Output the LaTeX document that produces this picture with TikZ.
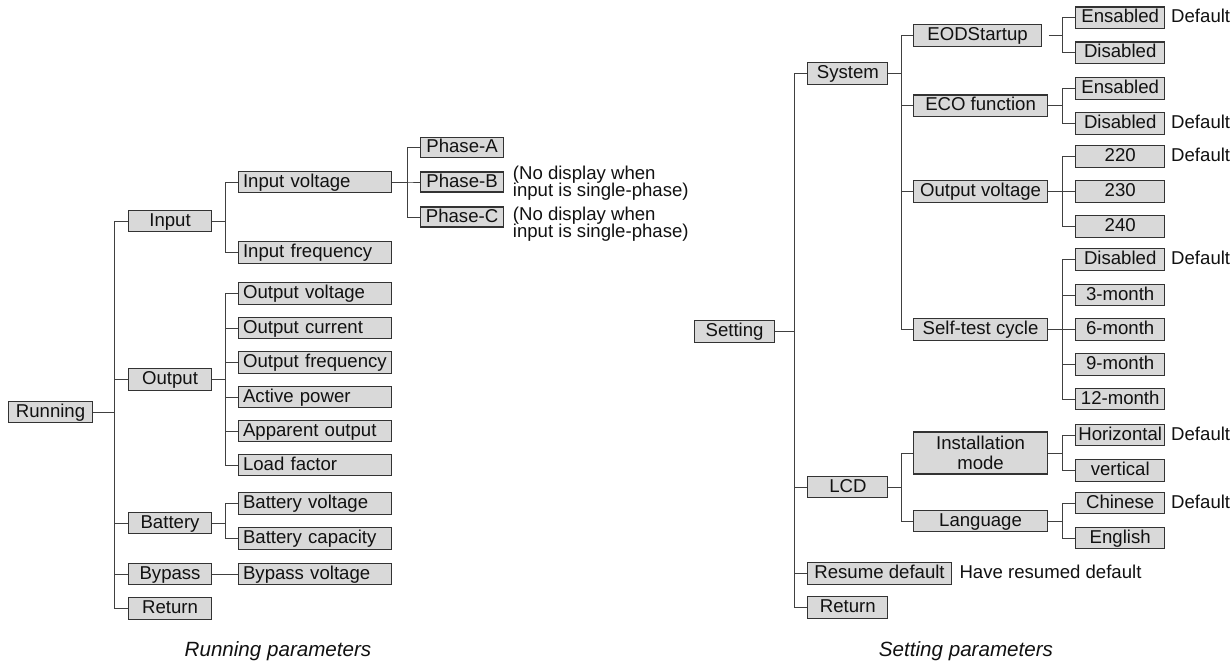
\documentclass[tikz,border=0pt]{standalone}
\usepackage{fontspec}
\setmainfont{Liberation Sans}
\definecolor{boxfill}{HTML}{D9D9D9}
\definecolor{boxline}{HTML}{333333}
\definecolor{linecol}{HTML}{404040}
\definecolor{txtcol}{HTML}{111111}
\newcommand\fsz{\fontsize{18.6}{16.7}\selectfont}
\newcommand\capfsz{\fontsize{20.6}{24}\selectfont\itshape}
\begin{document}
\begin{tikzpicture}[x=1pt,y=-1pt,
  box/.style={draw=boxline, fill=boxfill, line width=1.1pt, inner sep=0pt,
    minimum height=21.7pt, text height=14pt, text depth=4pt, font=\fsz,
    text=txtcol, anchor=west, minimum width=#1},
  lbox/.style={draw=boxline, fill=boxfill, line width=1.1pt, inner ysep=0pt, inner xsep=4.5pt,
    minimum height=21.7pt, text height=14pt, text depth=4pt, font=\fsz,
    text=txtcol, anchor=west, text width=#1, align=left},
  pbox/.style={box=83, minimum height=20pt},
  txt/.style={inner sep=0pt, font=\fsz, text=txtcol, anchor=base west},
  conn/.style={draw=linecol, line width=1pt},
  captxt/.style={inner sep=0pt, font=\capfsz, text=txtcol, anchor=base}]
\useasboundingbox (0,0) rectangle (1230,664);

% ---------------- Running parameters ----------------
\node[box=84] (running) at (8,412) {Running};
\node[box=83] (input) at (128,221) {Input};
\node[box=83] (output) at (128,379.5) {Output};
\node[box=83] (battery) at (128,523) {Battery};
\node[box=83] (bypass) at (128,574) {Bypass};
\node[box=83] (lreturn) at (128,608.5) {Return};

\node[lbox=144] (inv) at (238,182) {Input voltage};
\node[lbox=144] (infr) at (238,252.5) {Input frequency};
\node[lbox=144] (ov) at (238,293.5) {Output voltage};
\node[lbox=144] (oc) at (238,328) {Output current};
\node[lbox=144] (of) at (238,362.5) {Output frequency};
\node[lbox=144] (ap) at (238,397) {Active power};
\node[lbox=144] (ao) at (238,431) {Apparent output};
\node[lbox=144] (lf) at (238,465) {Load factor};
\node[lbox=144] (bv) at (238,503.5) {Battery voltage};
\node[lbox=144] (bc) at (238,538.5) {Battery capacity};
\node[lbox=144] (byv) at (238,574) {Bypass voltage};

\node[pbox] (pa) at (420,147.7) {Phase-A};
\node[pbox] (pb) at (420,182) {Phase-B};
\node[pbox] (pc) at (420,217) {Phase-C};
\node[txt, align=left] (nb) at (512.7,196.7) {(No display when\\[-1.6pt]input is single-phase)};
\node[txt, align=left] (nc) at (512.7,237.3) {(No display when\\[-1.6pt]input is single-phase)};

\foreach \c in {input,output,battery,bypass,lreturn}
  \draw[conn] (running.east) -- ++(21,0) |- (\c.west);
\foreach \c in {inv,infr}
  \draw[conn] (input.east) -- ++(13,0) |- (\c.west);
\foreach \c in {ov,oc,of,ap,ao,lf}
  \draw[conn] (output.east) -- ++(13,0) |- (\c.west);
\foreach \c in {bv,bc}
  \draw[conn] (battery.east) -- ++(13,0) |- (\c.west);
\draw[conn] (bypass.east) -- (byv.west);
\foreach \c in {pa,pb,pc}
  \draw[conn] (inv.east) -- ++(15,0) |- (\c.west);

\node[captxt] (cap1) at (278,656.7) {Running parameters};

% ---------------- Setting parameters ----------------
\node[box=80] (setting) at (694,331.5) {Setting};
\node[box=80] (system) at (807.3,73.7) {System};
\node[box=80] (lcd) at (807.3,487) {LCD};
\node[box=143.4] (resume) at (807.3,573.3) {Resume default};
\node[box=80] (rreturn) at (807.3,607.7) {Return};

\node[box=127.4] (eod) at (913.3,35.3) {EODStartup};
\node[box=133.4] (eco) at (913.3,105.8) {ECO function};
\node[box=133.4] (outv) at (913.3,191.3) {Output voltage};
\node[box=133.4] (self) at (913.3,329.5) {Self-test cycle};
\node[draw=boxline, fill=boxfill, line width=1.1pt, inner sep=0pt, anchor=west,
  minimum width=133.4pt, minimum height=42pt, align=center,
  font=\fontsize{18.6}{20}\selectfont, text=txtcol] (inst) at (913.3,453) {Installation\\mode};
\node[box=133.4] (lang) at (913.3,521) {Language};

\node[box=89.3] (e1) at (1075,17.8) {Ensabled};
\node[box=89.3] (d1) at (1075,52.8) {Disabled};
\node[box=89.3] (e2) at (1075,88.3) {Ensabled};
\node[box=89.3] (d2) at (1075,123.7) {Disabled};
\node[box=89.3] (v220) at (1075,156.5) {220};
\node[box=89.3] (v230) at (1075,191.3) {230};
\node[box=89.3] (v240) at (1075,226.5) {240};
\node[box=89.3] (sd) at (1075,259.7) {Disabled};
\node[box=89.3] (m3) at (1075,295) {3-month};
\node[box=89.3] (m6) at (1075,329.5) {6-month};
\node[box=89.3] (m9) at (1075,364.3) {9-month};
\node[box=89.3] (m12) at (1075,399) {12-month};
\node[box=89.3] (hor) at (1075,435) {Horizontal};
\node[box=89.3] (ver) at (1075,470.5) {vertical};
\node[box=89.3] (chi) at (1075,503) {Chinese};
\node[box=89.3] (eng) at (1075,538) {English};

\node[txt] (df1) at (1171,22.8) {Default};
\node[txt] (df2) at (1171,128.7) {Default};
\node[txt] (df3) at (1171,161.5) {Default};
\node[txt] (df4) at (1171,264.7) {Default};
\node[txt] (df5) at (1171,440) {Default};
\node[txt] (df6) at (1171,508) {Default};
\node[txt] (hrd) at (959.3,578.8) {Have resumed default};

\foreach \c in {system,lcd,resume,rreturn}
  \draw[conn] (setting.east) -- ++(19.3,0) |- (\c.west);
\foreach \c in {eod,eco,outv,self}
  \draw[conn] (system.east) -- ++(12.7,0) |- (\c.west);
\foreach \c in {inst,lang}
  \draw[conn] (lcd.east) -- ++(12.7,0) |- (\c.west);
\foreach \c in {e1,d1}
  \draw[conn] ([xshift=7pt]eod.east) -- ++(14,0) |- (\c.west);
\foreach \c in {e2,d2}
  \draw[conn] (eco.east) -- ++(15,0) |- (\c.west);
\foreach \c in {v220,v230,v240}
  \draw[conn] (outv.east) -- ++(15,0) |- (\c.west);
\foreach \c in {sd,m3,m6,m9,m12}
  \draw[conn] (self.east) -- ++(15,0) |- (\c.west);
\foreach \c in {hor,ver}
  \draw[conn] (inst.east) -- ++(15,0) |- (\c.west);
\foreach \c in {chi,eng}
  \draw[conn] (lang.east) -- ++(15,0) |- (\c.west);

\node[captxt] (cap2) at (966,656.7) {Setting parameters};
\end{tikzpicture}
\end{document}
